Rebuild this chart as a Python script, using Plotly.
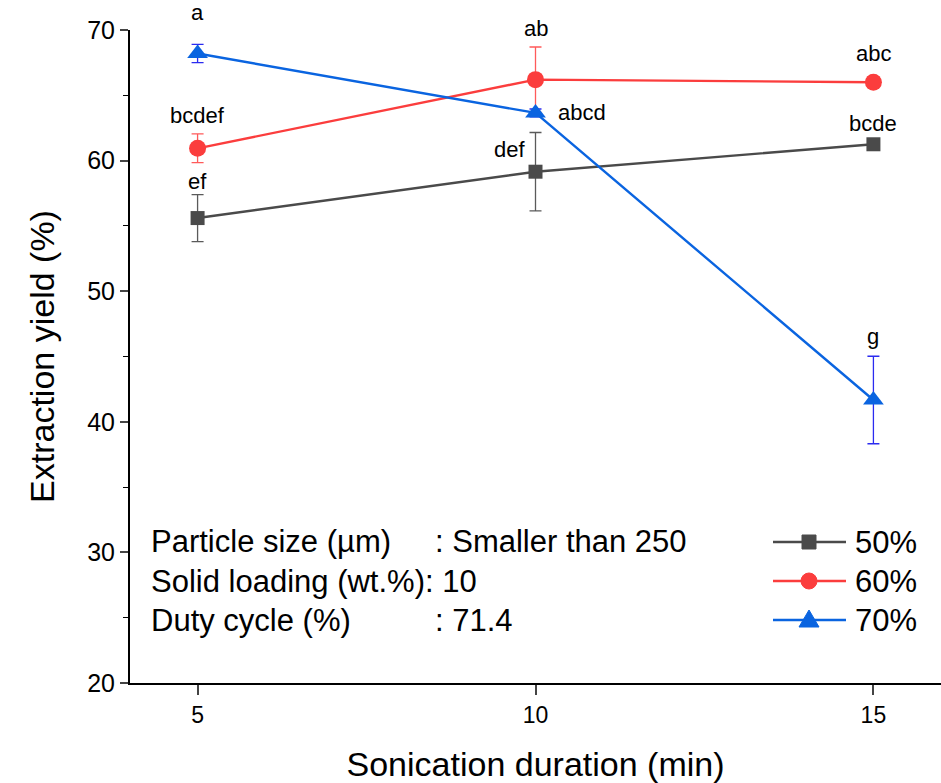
import plotly.graph_objects as go

durations = [5, 10, 15]
series_names = ["50%", "60%", "70%"]
y50 = [55.6, 59.15, 61.25]
e50 = [1.8, 3.0, 0.3]
y60 = [60.94, 66.2, 66.0]
e60 = [1.1, 2.5, 0.4]
y70 = [68.2, 63.65, 41.67]
e70 = [0.7, 0.3, 3.35]
letters50 = ["ef", "def", "bcde"]
letters60 = ["bcdef", "ab", "abc"]
letters70 = ["a", "abcd", "g"]

FONT = "Liberation Sans, Arial, sans-serif"
colors = ["#4a4a4a", "#fb3d3d", "#0a64e0"]
ecolors = ["#5a5a5a", "#ff5a5a", "#2b2bf0"]
symbols = ["square", "circle", "triangle-up"]
msizes = [14, 17, 18]
ys = [y50, y60, y70]
es = [e50, e60, e70]

fig = go.Figure()
for name, y, e, c, ec, s, ms in zip(series_names, ys, es, colors, ecolors, symbols, msizes):
    fig.add_trace(go.Scatter(
        x=durations, y=y, name=name, mode="lines+markers",
        line=dict(color=c, width=2.4),
        marker=dict(symbol=s, size=ms, color=c),
        error_y=dict(type="data", array=e, visible=True, color=ec, thickness=1.3, width=6),
        showlegend=False,
    ))

# letter annotations (offsets in px)
offsets = {
    ("50", 0): (0, 37, "center"), ("50", 1): (-9, 22, "right"), ("50", 2): (0, 21, "center"),
    ("60", 0): (0, 33, "center"), ("60", 1): (0, 51, "center"), ("60", 2): (0, 29, "center"),
    ("70", 0): (0, 41, "center"), ("70", 1): (20, 0, "left"), ("70", 2): (0, 63, "center"),
}
for key, y, labs in [("50", y50, letters50), ("60", y60, letters60), ("70", y70, letters70)]:
    for i, (xv, yv, lab) in enumerate(zip(durations, y, labs)):
        dx, dy, anc = offsets[(key, i)]
        fig.add_annotation(x=xv, y=yv, text=lab, showarrow=False, xanchor=anc, yanchor="middle",
                           xshift=dx, yshift=dy, font=dict(family=FONT, size=22, color="black"))

# info text block
info = [("Particle size (µm)", ": Smaller than 250", 0.216),
        ("Duty cycle (%)", ": 71.4", 0.095)]
for lab, val, yp in info:
    fig.add_annotation(xref="paper", yref="paper", x=0.024, y=yp, text=lab, showarrow=False,
                       xanchor="left", yanchor="middle", font=dict(family=FONT, size=31, color="black"))
    fig.add_annotation(xref="paper", yref="paper", x=0.373, y=yp, text=val, showarrow=False,
                       xanchor="left", yanchor="middle", font=dict(family=FONT, size=31, color="black"))
fig.add_annotation(xref="paper", yref="paper", x=0.024, y=0.155, text="Solid loading (wt.%): 10",
                   showarrow=False, xanchor="left", yanchor="middle",
                   font=dict(family=FONT, size=31, color="black"))

# custom legend (long line samples like the reference)
PW, PH, L, B = 811, 653, 130, 683
def px(xp):
    return (xp - L) / PW
def py(yp):
    return (B - yp) / PH
legend_rows = [542, 581, 620]
for name, c, s, ry in zip(series_names, colors, symbols, legend_rows):
    fig.add_shape(type="line", xref="paper", yref="paper", x0=px(773), x1=px(846), y0=py(ry), y1=py(ry),
                  line=dict(color=c, width=2.4))
    common = dict(xref="paper", yref="paper", xsizemode="pixel", ysizemode="pixel",
                  xanchor=px(809), yanchor=py(ry), fillcolor=c, line=dict(color=c, width=1))
    if s == "square":
        fig.add_shape(type="rect", x0=-7, x1=7, y0=-7, y1=7, **common)
    elif s == "circle":
        fig.add_shape(type="circle", x0=-8, x1=8, y0=-8, y1=8, **common)
    else:
        fig.add_shape(type="path", path="M -10 -7 L 10 -7 L 0 10 Z", **common)
    fig.add_annotation(xref="paper", yref="paper", x=px(853), y=py(ry), text=name, showarrow=False,
                       xanchor="left", yanchor="middle", font=dict(family=FONT, size=31, color="black"))

fig.update_layout(
    width=941, height=783,
    margin=dict(l=130, r=0, t=30, b=100),
    paper_bgcolor="white", plot_bgcolor="white",
    font=dict(family=FONT, color="black"),
    showlegend=False,
    xaxis=dict(range=[4, 16], tickvals=durations, ticks="outside", ticklen=10, tickwidth=1.5,
               showline=True, linecolor="black", linewidth=2, showgrid=False, zeroline=False,
               tickfont=dict(family=FONT, size=23), mirror=False,
               title=dict(text="Sonication duration (min)", font=dict(family=FONT, size=34), standoff=28)),
    yaxis=dict(range=[20, 70], dtick=10, ticks="outside", ticklen=8, tickwidth=1.5,
               showline=True, linecolor="black", linewidth=2, showgrid=False, zeroline=False,
               minor=dict(dtick=5, ticks="outside", ticklen=5, tickwidth=1.2, tickcolor="black"),
               tickfont=dict(family=FONT, size=25),
               title=dict(text="Extraction yield (%)", font=dict(family=FONT, size=34), standoff=22)),
)
fig.write_html("out.html")
